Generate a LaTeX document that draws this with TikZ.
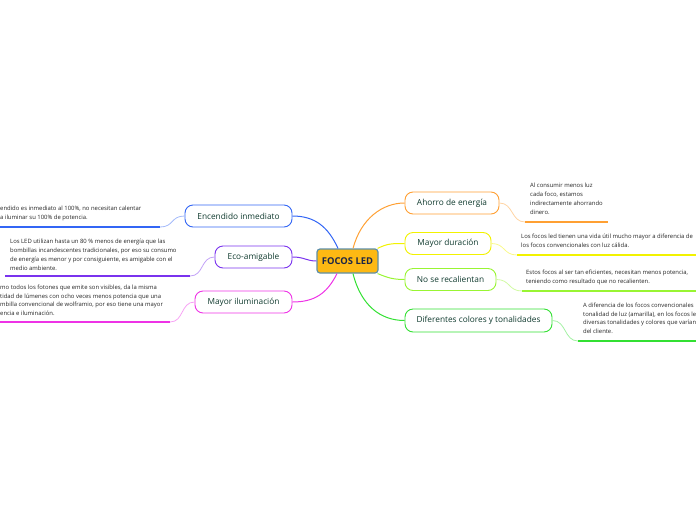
\documentclass[tikz,border=0pt]{standalone}
\usepackage{fontspec}
\setmainfont{Open Sans}
\usetikzlibrary{calc}
\definecolor{corange}{HTML}{FFA033}
\definecolor{cyellow}{HTML}{F2F200}
\definecolor{clgreen}{HTML}{99F533}
\definecolor{cgreen}{HTML}{33E033}
\definecolor{cblue}{HTML}{3366F5}
\definecolor{cpurple}{HTML}{7A33EE}
\definecolor{cmagenta}{HTML}{EE33E6}
\definecolor{ltext}{HTML}{0F3A2E}
\definecolor{ctext}{HTML}{1B2647}
\definecolor{cfill}{HTML}{FDB913}
\definecolor{cborder}{HTML}{5E8FA8}
\tikzset{
  topic/.style={draw=#1, line width=0.9pt, fill=white, rounded corners=8pt, inner sep=0pt,
    minimum height=22pt, text=ltext, font=\fontsize{8.3}{10}\selectfont},
  note/.style={inner sep=0pt, align=left, text=black!85, font=\fontsize{5.9}{8.8}\selectfont},
  link/.style={draw=#1, line width=1pt},
  sublink/.style={draw=#1!45, line width=0.8pt},
  uline/.style={draw=#1, line width=2pt},
}
\begin{document}
\begin{tikzpicture}[x=1pt,y=-1pt]
\useasboundingbox (0,0) rectangle (696,520);
% central
\node[draw=cborder, line width=1.2pt, fill=cfill, rounded corners=3pt, minimum width=61pt, minimum height=24pt,
  inner sep=0pt, text=ctext, font=\bfseries\fontsize{9.4}{11}\selectfont] (c) at (347.5,261) {FOCOS LED};
% right topics
\node[topic=corange, minimum width=94pt] (a) at (452,203) {Ahorro de energía};
\node[topic=cyellow, minimum width=86pt] (b) at (448,243.5) {Mayor duración};
\node[topic=clgreen, minimum width=91pt] (d) at (450.5,279.5) {No se recalientan};
\node[topic=cgreen, minimum width=147pt, minimum height=23pt] (e) at (478.5,320.5) {Diferentes colores y tonalidades};
% left topics
\node[topic=cblue, minimum width=107pt] (f) at (238.5,216) {Encendido inmediato};
\node[topic=cpurple, minimum width=77pt] (g) at (253.5,257) {Eco-amigable};
\node[topic=cmagenta, minimum width=97pt] (h) at (243.5,302) {Mayor iluminación};
% main connectors
\draw[link=corange] ($(c.north)+(5.5,0)$) .. controls +(8,-30) and +(-22,0) .. (a.west);
\draw[link=cyellow] ($(c.north east)+(-1,0)$) .. controls +(10,-5) and +(-12,0) .. (b.west);
\draw[link=clgreen] ($(c.south east)+(-1,0)$) .. controls +(10,4) and +(-12,0) .. (d.west);
\draw[link=cgreen] ($(c.south)+(5.5,0)$) .. controls +(8,32) and +(-24,0) .. (e.west);
\draw[link=cblue] ($(c.north)+(-9.5,0)$) .. controls +(-10,-22) and +(22,0) .. (f.east);
\draw[link=cpurple] ($(c.west)+(0,0)$) .. controls +(-10,0) and +(12,0) .. (g.east);
\draw[link=cmagenta] ($(c.south)+(-10.5,0)$) .. controls +(-10,20) and +(22,0) .. (h.east);
% right notes
\node[note, anchor=north west] (na) at (530,183) {Al consumir menos luz\\cada foco, estamos\\indirectamente ahorrando\\dinero.};
\coordinate (ua1) at (525,222); \coordinate (ua2) at (608,222);
\draw[sublink=corange] (a.east) .. controls +(14,0) and +(-14,0) .. (ua1);
\draw[uline=corange] (ua1) -- (ua2);
\node[note, anchor=north west] (nb) at (521,233.5) {Los focos led tienen una vida útil mucho mayor a diferencia de\\los focos convencionales con luz cálida.};
\coordinate (ub1) at (517,255); \coordinate (ub2) at (696,255);
\draw[sublink=cyellow] (b.east) .. controls +(14,0) and +(-14,0) .. (ub1);
\draw[uline=cyellow] (ub1) -- (ub2);
\node[note, anchor=north west] (nd) at (526,269.5) {Estos focos al ser tan eficientes, necesitan menos potencia,\\teniendo como resultado que no recalienten.};
\coordinate (ud1) at (522,291); \coordinate (ud2) at (696,291);
\draw[sublink=clgreen] (d.east) .. controls +(14,0) and +(-14,0) .. (ud1);
\draw[uline=clgreen] (ud1) -- (ud2);
\node[note, anchor=north west] (ne) at (583,302.5) {A diferencia de los focos convencionales\\tonalidad de luz (amarilla), en los focos le\\diversas tonalidades y colores que varían\\del cliente.};
\coordinate (ue1) at (578,341); \coordinate (ue2) at (696,341);
\draw[sublink=cgreen] (e.east) .. controls +(14,0) and +(-14,0) .. (ue1);
\draw[uline=cgreen] (ue1) -- (ue2);
% left notes
\node[note, anchor=north west] (nf) at (0,206) {endido es inmediato al 100\%, no necesitan calentar\\a iluminar su 100\% de potencia.};
\coordinate (uf1) at (160,227); \coordinate (uf2) at (0,227);
\draw[sublink=cblue] (f.west) .. controls +(-14,0) and +(14,0) .. (uf1);
\draw[uline=cblue] (uf1) -- (uf2);
\node[note, anchor=north west] (ng) at (10,239) {Los LED utilizan hasta un 80 \% menos de energía que las\\bombillas incandescentes tradicionales, por eso su consumo\\de energía es menor y por consiguiente, es amigable con el\\medio ambiente.};
\coordinate (ug1) at (190,276); \coordinate (ug2) at (5,276);
\draw[sublink=cpurple] (g.west) .. controls +(-14,0) and +(14,0) .. (ug1);
\draw[uline=cpurple] (ug1) -- (ug2);
\node[note, anchor=north west] (nh) at (0,284.5) {mo todos los fotones que emite son visibles, da la misma\\tidad de lúmenes con ocho veces menos potencia que una\\mbilla convencional de wolframio, por eso tiene una mayor\\encia e iluminación.};
\coordinate (uh1) at (170,322); \coordinate (uh2) at (0,322);
\draw[sublink=cmagenta] (h.west) .. controls +(-14,0) and +(14,0) .. (uh1);
\draw[uline=cmagenta] (uh1) -- (uh2);
\end{tikzpicture}
\end{document}
